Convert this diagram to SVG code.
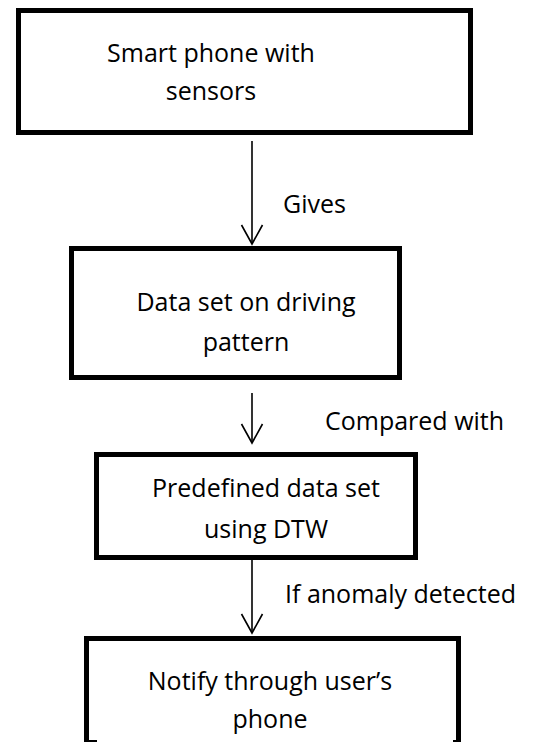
<svg xmlns="http://www.w3.org/2000/svg" width="534" height="742" viewBox="0 0 534 742">
<style>
.box{fill:#fff;stroke:#000;stroke-width:5}
.t{font-family:"Open Sans","Noto Sans",sans-serif;font-size:25px;fill:#000}
.m{text-anchor:middle}
.c{fill:none;stroke:#000;stroke-width:1.6}
</style>
<defs>
<marker id="ah" markerUnits="userSpaceOnUse" markerWidth="40" markerHeight="40" refX="0" refY="0" orient="auto" overflow="visible">
<path d="M-19 -10.5 L0 0 L-19 10.5" fill="none" stroke="#000" stroke-width="1.6"/>
</marker>
</defs>
<rect width="534" height="742" fill="#fff"/>
<g id="connectors">
<line class="c" x1="252" y1="141" x2="252" y2="244" marker-end="url(#ah)"/>
<line class="c" x1="252" y1="393" x2="252" y2="443" marker-end="url(#ah)"/>
<line class="c" x1="252" y1="560" x2="252" y2="633" marker-end="url(#ah)"/>
<text class="t" x="283" y="213">Gives</text>
<text class="t" x="325" y="430">Compared with</text>
<text class="t" x="285" y="603">If anomaly detected</text>
</g>
<g id="node1">
<rect class="box" x="18.5" y="10.5" width="452" height="122"/>
<text class="t m" x="211" y="62">Smart phone with</text>
<text class="t m" x="211" y="100">sensors</text>
</g>
<g id="node2">
<rect class="box" x="71.5" y="248.5" width="328" height="129"/>
<text class="t m" x="246" y="311">Data set on driving</text>
<text class="t m" x="246" y="351">pattern</text>
</g>
<g id="node3">
<rect class="box" x="96.5" y="454.5" width="319" height="103"/>
<text class="t m" x="266" y="497">Predefined data set</text>
<text class="t m" x="266" y="538">using DTW</text>
</g>
<g id="node4">
<path d="M86.5 742 V638.5 H458.5 V742" fill="none" stroke="#000" stroke-width="5"/>
<line x1="86" y1="741" x2="97" y2="741" stroke="#000" stroke-width="2"/>
<line x1="453" y1="741" x2="459" y2="741" stroke="#000" stroke-width="2"/>
<text class="t m" x="270" y="690">Notify through user’s</text>
<text class="t m" x="270" y="728">phone</text>
</g>
</svg>
